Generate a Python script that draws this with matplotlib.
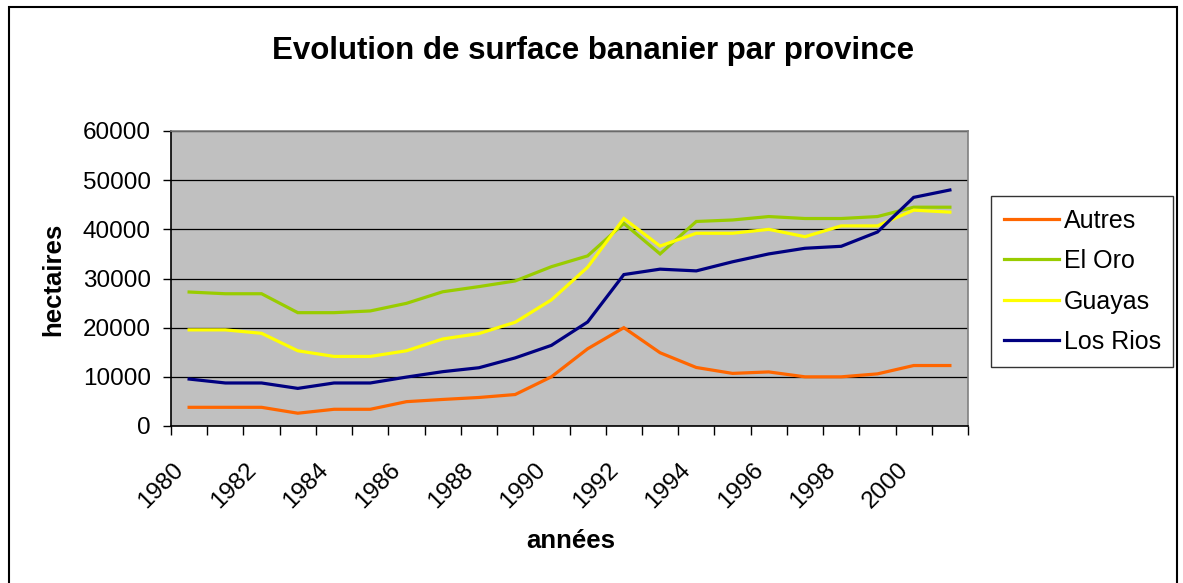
import matplotlib
matplotlib.use('Agg')
import matplotlib.pyplot as plt
from matplotlib.patches import Rectangle
from matplotlib.transforms import ScaledTranslation
import numpy as np

plt.rcParams['font.family'] = ['Liberation Sans', 'DejaVu Sans']

years = list(range(1980, 2002))
tick_years = [str(y) for y in range(1980, 2001, 2)]
series_names = ['Autres', 'El Oro', 'Guayas', 'Los Rios']
autres = [3800, 3800, 3800, 2600, 3400, 3400, 4950, 5400, 5800, 6400, 10000,
          15700, 20000, 14900, 11900, 10700, 11000, 10000, 10000, 10600, 12300, 12300]
el_oro = [27250, 26900, 26900, 23050, 23050, 23400, 24950, 27300, 28350, 29500, 32400,
          34600, 41200, 35000, 41600, 41900, 42600, 42200, 42200, 42600, 44500, 44500]
guayas = [19550, 19550, 18850, 15300, 14150, 14150, 15300, 17700, 18800, 21100, 25650,
          32300, 42200, 36600, 39200, 39200, 40000, 38500, 40700, 40700, 43900, 43500]
los_rios = [9550, 8750, 8750, 7650, 8750, 8750, 9950, 11050, 11850, 13850, 16400,
            21150, 30800, 31900, 31550, 33400, 35000, 36150, 36550, 39450, 46500, 48000]
colors = ['#FF6600', '#99CC00', '#FFFF00', '#000080']

W, H = 1183, 583
fig = plt.figure(figsize=(W / 100, H / 100), dpi=100)
fig.patch.set_facecolor('white')

# outer chart border
fig.patches.append(Rectangle((9 / W, -0.05), (1177 - 9) / W, 1 - 7 / H + 0.05,
                             transform=fig.transFigure, fill=False,
                             edgecolor='black', linewidth=1.5))

left, right, top, bottom = 171, 968, 131, 426
ax = fig.add_axes([left / W, 1 - bottom / H, (right - left) / W, (bottom - top) / H])
ax.set_facecolor('#C0C0C0')

x = np.arange(len(years))
for name, vals, c in zip(series_names, [autres, el_oro, guayas, los_rios], colors):
    ax.plot(x, vals, color=c, linewidth=2.3, label=name, solid_joinstyle='miter')

ax.set_xlim(-0.5, len(years) - 0.5)
ax.set_ylim(0, 60000)
ax.set_yticks(np.arange(0, 60001, 10000))
ax.yaxis.grid(True, color='black', linewidth=0.9)
ax.set_axisbelow(True)

ax.set_xticks(np.arange(0, len(years), 2))
ax.set_xticklabels(tick_years)
ax.set_xticks(np.arange(-0.5, len(years), 1), minor=True)
ax.tick_params(axis='x', which='major', length=0, pad=29, labelsize=17.5)
ax.tick_params(axis='x', which='minor', length=6.5, width=1, direction='out', color='black')
ax.tick_params(axis='y', length=6, width=1, pad=8.5, labelsize=17.5)
shift = ScaledTranslation(-9 / 100, 0, fig.dpi_scale_trans)
for lab in ax.get_xticklabels():
    lab.set_rotation(45)
    lab.set_ha('right')
    lab.set_va('center')
    lab.set_rotation_mode('anchor')
    lab.set_transform(lab.get_transform() + shift)

for s in ['left', 'bottom']:
    ax.spines[s].set_color('black')
    ax.spines[s].set_linewidth(1.2)
for s in ['top', 'right']:
    ax.spines[s].set_color('#808080')
    ax.spines[s].set_linewidth(1.2)

ax.set_xlabel('années', fontsize=18.5, fontweight='bold', va='center')
ax.xaxis.set_label_coords((571 - left) / (right - left), (bottom - 541) / (bottom - top))
ax.set_ylabel('hectaires', fontsize=18.5, fontweight='bold', va='center')
ax.yaxis.set_label_coords((53 - left) / (right - left), (bottom - 279) / (bottom - top))

fig.text(593 / W, 1 - 51 / H, 'Evolution de surface bananier par province',
         ha='center', va='center', fontsize=22.5, fontweight='bold')

leg = fig.legend(loc='upper left', bbox_to_anchor=(991 / W, 1 - 196 / H),
                 bbox_transform=fig.transFigure, borderaxespad=0, fontsize=18,
                 frameon=True, fancybox=False, shadow=False,
                 handlelength=2.2, handletextpad=0.2, labelspacing=0.66,
                 borderpad=0.5)
leg.get_frame().set_edgecolor('black')
leg.get_frame().set_linewidth(1.0)
for line in leg.get_lines():
    line.set_linewidth(2.3)

fig.savefig('out.png', dpi=100)
